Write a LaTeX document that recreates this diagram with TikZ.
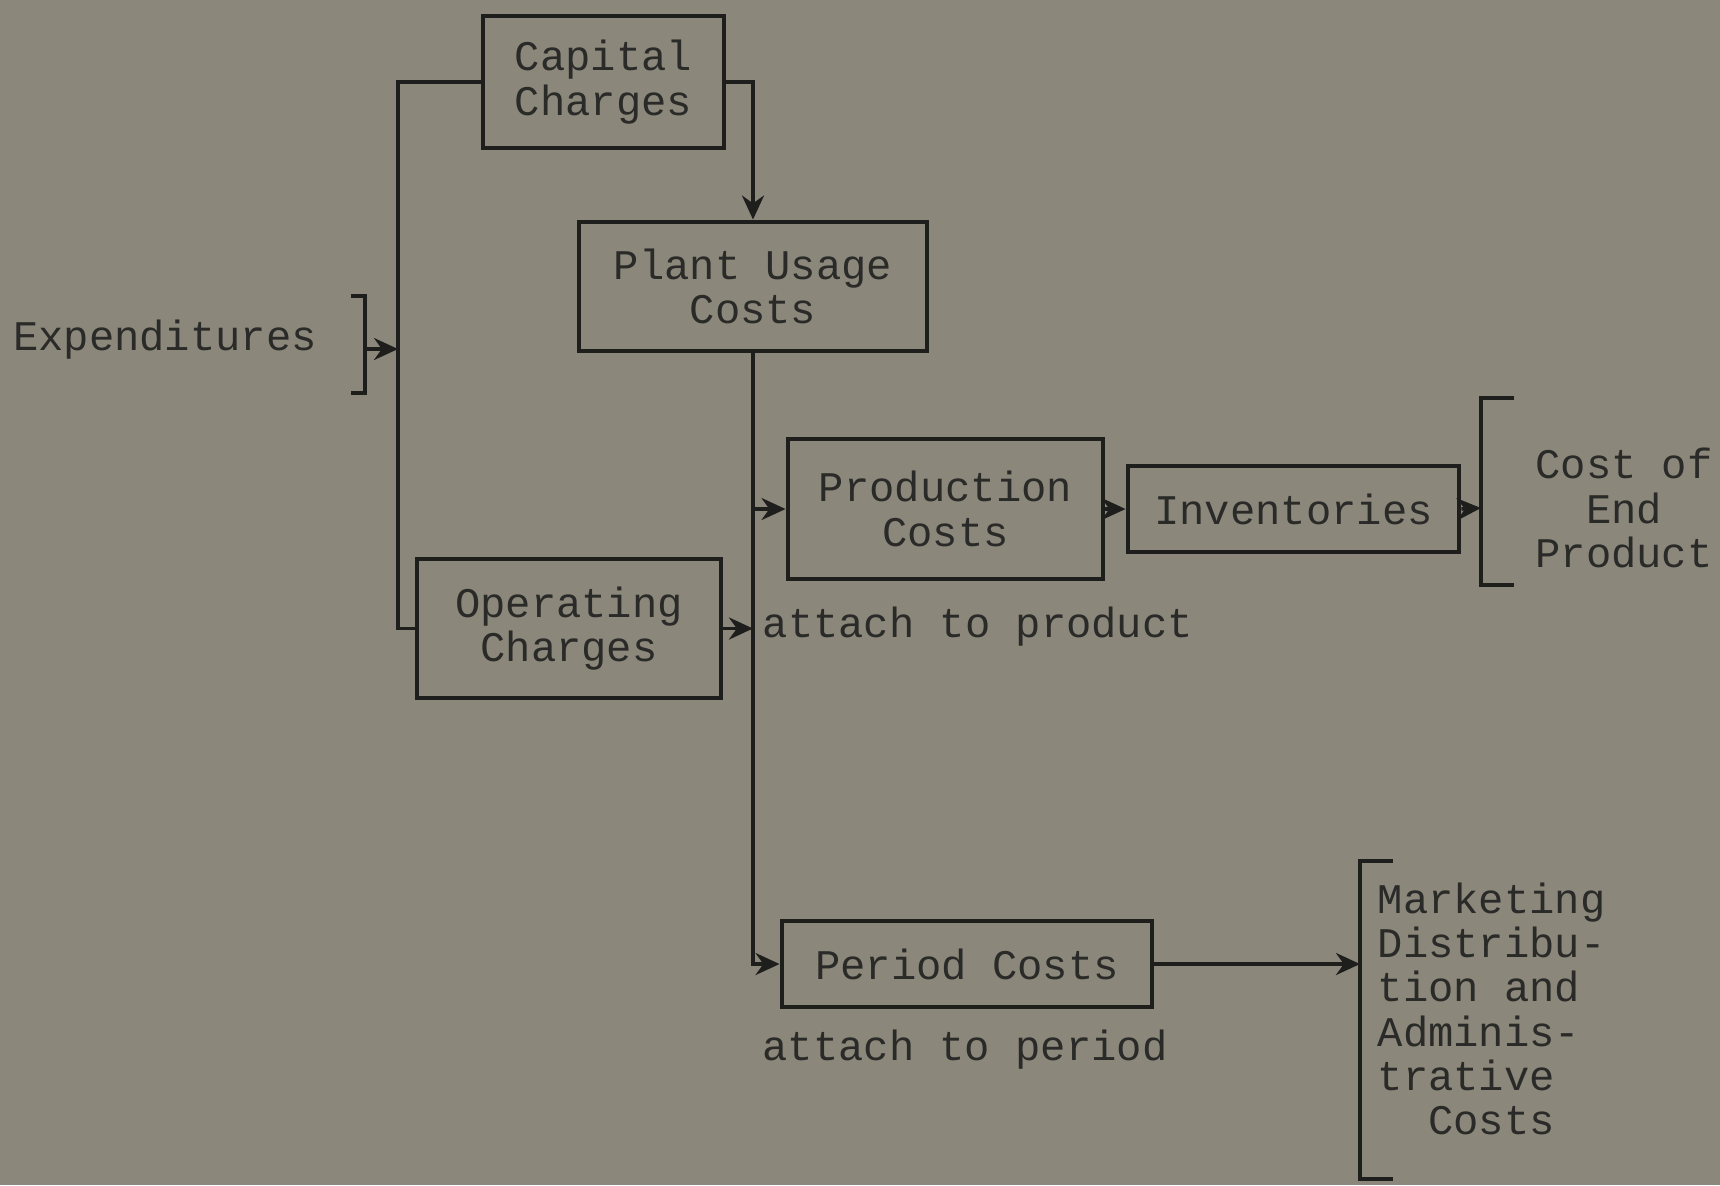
\documentclass[tikz,border=0pt]{standalone}
\usepackage{fontspec}
\setmonofont{Liberation Mono}
\usepackage{xcolor}
\usetikzlibrary{arrows.meta, positioning, calc}

\definecolor{paper}{RGB}{139,135,122}
\definecolor{ink}{RGB}{30,30,28}
\definecolor{type}{RGB}{42,42,40}

\begin{document}
\begin{tikzpicture}[>={Stealth[length=2.4mm,width=2.2mm]}, font=\ttfamily\fontsize{12}{12.6}\selectfont]

\tikzset{
    costbox/.style={rectangle, draw=ink, line width=1.4pt, inner sep=0pt,
                    text=type, align=center},
    conn/.style={draw=ink, line width=1pt},
    arr/.style={conn, ->},
    brk/.style={draw=ink, line width=1.3pt},
    plain/.style={text=type, inner sep=0pt}
}

% ── 背景 ──
\fill[paper] (0,0) rectangle (17.2,-11.85);
\useasboundingbox (0,0) rectangle (17.2,-11.85);

% ── 方框 ──
\node[costbox, minimum width=2.41cm, minimum height=1.32cm] (cap)    at (6.035,-0.82)  {Capital\\Charges};
\node[costbox, minimum width=3.48cm, minimum height=1.29cm] (plant)  at (7.53,-2.865)  {Plant Usage\\Costs};
\node[costbox, minimum width=3.15cm, minimum height=1.40cm] (prod)   at (9.455,-5.09)  {Production\\Costs};
\node[costbox, minimum width=3.31cm, minimum height=0.86cm] (inv)    at (12.935,-5.09) {Inventories};
\node[costbox, minimum width=3.04cm, minimum height=1.39cm] (oper)   at (5.69,-6.285)  {Operating\\Charges};
\node[costbox, minimum width=3.70cm, minimum height=0.86cm] (period) at (9.67,-9.64)   {Period Costs};

% ── 文字 ──
\node[plain] (exp)   at (1.65,-3.40) {Expenditures};
\node[plain, anchor=west] (tprod) at (7.62,-6.27) {attach to product};
\node[plain] (tper)  at (9.65,-10.50) {attach to period};
\node[plain, align=center] (endp) at (16.24,-5.08) {Cost of\\End\\Product};
\node[plain, align=left, anchor=west] (mkt) at (13.77,-10.09)
    {Marketing\\Distribu-\\tion and\\Adminis-\\trative\\\hspace*{1.2em}Costs};

% ── 括号 ──
\coordinate (bus)  at (3.98,0);
\coordinate (expb) at (3.65,-3.49);
\coordinate (brkA) at (14.81,-5.08);
\coordinate (brkB) at (13.60,-9.64);

\draw[brk] ($(expb)+(-0.14,0.53)$) -- ($(expb)+(0,0.53)$) -- ($(expb)+(0,-0.44)$) -- ($(expb)+(-0.14,-0.44)$);
\draw[brk] ($(brkA)+(0.33,1.10)$) -- ($(brkA)+(0,1.10)$) -- ($(brkA)+(0,-0.77)$) -- ($(brkA)+(0.33,-0.77)$);
\draw[brk] ($(brkB)+(0.33,1.03)$) -- ($(brkB)+(0,1.03)$) -- ($(brkB)+(0,-2.15)$) -- ($(brkB)+(0.33,-2.15)$);

% ── 连线 ──
\draw[conn] (cap.west) -| (bus |- oper.west) -- (oper.west);
\draw[arr]  (expb) -- (expb -| bus);
\draw[arr]  (cap.east) -| (plant.north);
\draw[arr]  (plant.south) |- (period.west);
\draw[arr]  (plant.south |- prod.west) -- (prod.west);
\draw[arr]  (oper.east) -- (oper.east -| plant.south);
\draw[arr]  (prod.east) -- (inv.west);
\draw[arr]  (inv.east) -- (brkA);
\draw[arr]  (period.east) -- (brkB);

\end{tikzpicture}
\end{document}
